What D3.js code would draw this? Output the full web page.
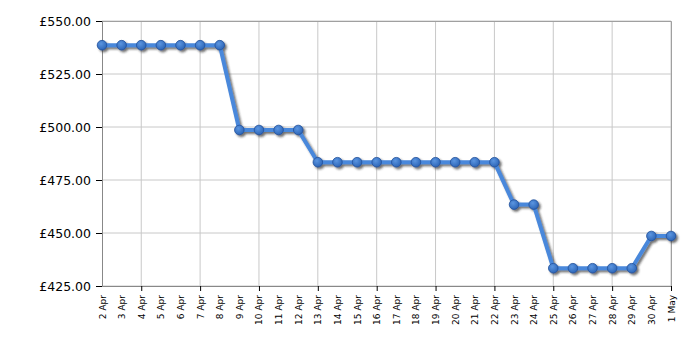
<!DOCTYPE html>
<html>
<head>
<meta charset="utf-8">
<script src="https://d3js.org/d3.v7.min.js"></script>
<style>
body { margin: 0; background: #fff; }
text { font-family: "DejaVu Sans", Verdana, sans-serif; }
</style>
</head>
<body>
<div id="chart"></div>
<script>
// dates along the x axis
var days = ["2 Apr","3 Apr","4 Apr","5 Apr","6 Apr","7 Apr","8 Apr","9 Apr","10 Apr","11 Apr",
  "12 Apr","13 Apr","14 Apr","15 Apr","16 Apr","17 Apr","18 Apr","19 Apr","20 Apr","21 Apr",
  "22 Apr","23 Apr","24 Apr","25 Apr","26 Apr","27 Apr","28 Apr","29 Apr","30 Apr","1 May"];
// price for each day
var prices = [538.6,538.6,538.6,538.6,538.6,538.6,538.6,498.6,498.6,498.6,
  498.6,483.4,483.4,483.4,483.4,483.4,483.4,483.4,483.4,483.4,
  483.4,463.4,463.4,433.4,433.4,433.4,433.4,433.4,448.6,448.6];
var yTicks = [425, 450, 475, 500, 525, 550];

var margin = {top: 21, right: 29, bottom: 64, left: 102},
  width = 700 - margin.left - margin.right,
  height = 350 - margin.top - margin.bottom;

var svg = d3.select("#chart").append("svg")
  .attr("width", 700)
  .attr("height", 350);

var defs = svg.append("defs");
var f = defs.append("filter").attr("id", "shadow")
  .attr("x", "-10%").attr("y", "-10%").attr("width", "130%").attr("height", "130%");
f.append("feDropShadow")
  .attr("dx", 2).attr("dy", 2).attr("stdDeviation", 1.2)
  .attr("flood-color", "#222").attr("flood-opacity", 0.65);

var grad = defs.append("radialGradient").attr("id", "dot")
  .attr("cx", "40%").attr("cy", "35%").attr("r", "65%");
grad.append("stop").attr("offset", "0%").attr("stop-color", "#5b95e0");
grad.append("stop").attr("offset", "100%").attr("stop-color", "#2d66b8");

var g = svg.append("g")
  .attr("transform", "translate(" + margin.left + "," + margin.top + ")");

var x = d3.scalePoint().domain(days).range([0, width]);
var y = d3.scaleLinear().domain([425, 550]).range([height, 0]);

// horizontal grid
g.append("g")
  .selectAll("line")
  .data(yTicks)
  .join("line")
    .attr("x1", 0).attr("x2", width)
    .attr("y1", d => y(d)).attr("y2", d => y(d))
    .attr("stroke", "#c8c8c8");

// vertical grid every third day
var gridDays = days.filter((d, i) => i % 3 == 2);
g.append("g")
  .selectAll("line")
  .data(gridDays)
  .join("line")
    .attr("x1", d => x(d)).attr("x2", d => x(d))
    .attr("y1", 0).attr("y2", height)
    .attr("stroke", "#c8c8c8");

// frame top and right
g.append("path")
  .attr("d", "M0,0.5H" + (width + 0.5) + "V" + height)
  .attr("fill", "none")
  .attr("stroke", "#a0a0a0");

// y axis
var yAxis = g.append("g")
  .call(d3.axisLeft(y).tickValues(yTicks).tickSize(6).tickPadding(5)
    .tickFormat(d => "£" + d3.format(".2f")(d)));
yAxis.select(".domain").attr("stroke", "#888");
yAxis.selectAll(".tick line").attr("stroke", "#000");
yAxis.selectAll("text").style("font-size", "12.5px").attr("fill", "#000");

// x axis
var xAxis = g.append("g")
  .attr("transform", "translate(0," + height + ")")
  .call(d3.axisBottom(x).tickSize(0).tickSizeOuter(0).tickPadding(0));
xAxis.select(".domain").attr("stroke", "#888");
xAxis.selectAll("text")
  .style("font-size", "9px")
  .attr("fill", "#000")
  .attr("text-anchor", "end")
  .attr("transform", "translate(3,9) rotate(-90)")
  .attr("x", 0).attr("y", 0).attr("dy", 0);
xAxis.selectAll(".tick").filter((d, i) => i % 3 == 2)
  .append("line").attr("y2", 5).attr("stroke", "#000");

// price line with markers
var data = days.map((d, i) => ({day: d, price: prices[i]}));
var series = g.append("g").attr("filter", "url(#shadow)");

series.append("path")
  .datum(data)
  .attr("fill", "none")
  .attr("stroke", "#4a88db")
  .attr("stroke-width", 4)
  .attr("stroke-linejoin", "round")
  .attr("d", d3.line().x(d => x(d.day)).y(d => y(d.price)));

series.selectAll("circle")
  .data(data)
  .join("circle")
    .attr("cx", d => x(d.day))
    .attr("cy", d => y(d.price))
    .attr("r", 4.8)
    .attr("fill", "url(#dot)")
    .attr("stroke", "#22509a")
    .attr("stroke-width", 0.8);
</script>
</body>
</html>
